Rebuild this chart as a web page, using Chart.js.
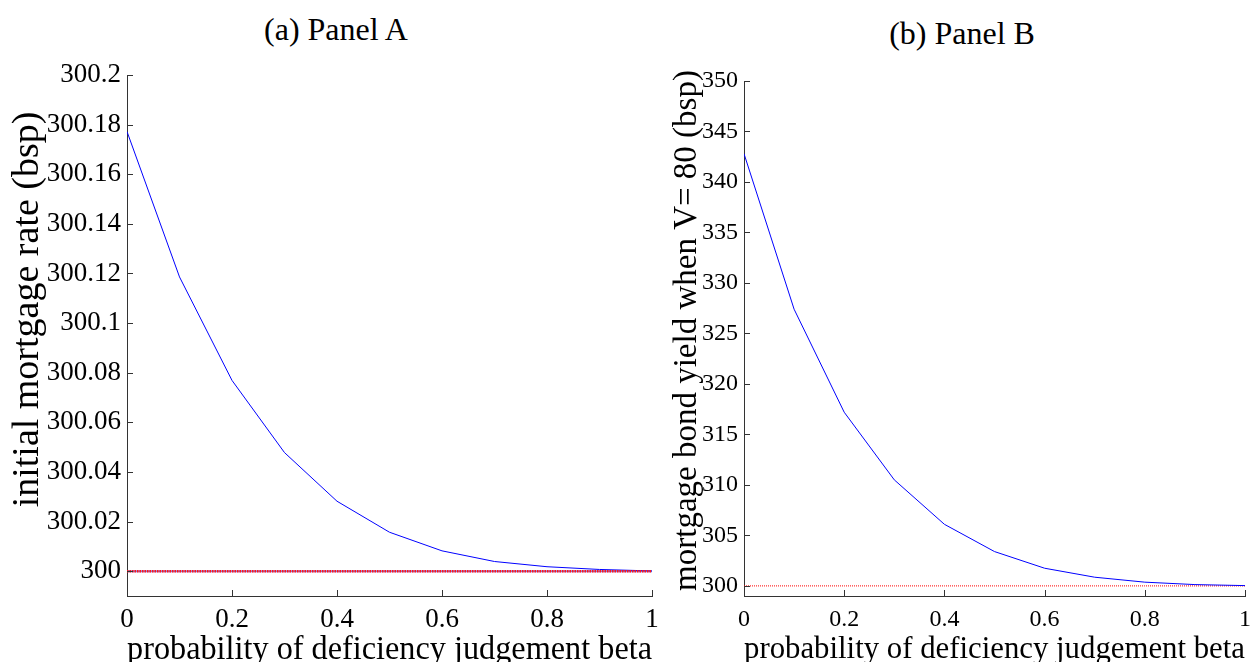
<!DOCTYPE html>
<html>
<head>
<meta charset="utf-8">
<title>Panels A and B</title>
<script src="https://cdn.jsdelivr.net/npm/chart.js@4.4.1/dist/chart.umd.min.js"></script>
<style>
  html, body { margin: 0; padding: 0; background: #fff; }
  body { width: 1260px; height: 662px; overflow: hidden; position: relative; font-family: 'Liberation Serif', 'Times New Roman', serif; }
  .panel-title { position: absolute; font-size: 32px; line-height: 1; white-space: nowrap; transform: translate(-50%, -50%); color: #000; }
  #titleA { left: 336px; top: 29px; }
  #titleB { left: 962px; top: 33px; }
  #boxA { position: absolute; left: 0; top: 0; }
  #boxB { position: absolute; left: 640px; top: 0; }
</style>
</head>
<body>
<div class="panel-title" id="titleA">(a) Panel A</div>
<div class="panel-title" id="titleB">(b) Panel B</div>
<div id="boxA"><canvas id="chartA" width="672" height="670"></canvas></div>
<div id="boxB"><canvas id="chartB" width="620" height="670"></canvas></div>
<script>
// x values (beta) shared by both panels
var betaValues = [0, 0.1, 0.2, 0.3, 0.4, 0.5, 0.6, 0.7, 0.8, 0.9, 1];

// panel A: initial mortgage rate
var mortgageRate = [300.1772, 300.1186, 300.0769, 300.0478, 300.0282, 300.0157, 300.0082, 300.0039, 300.0018, 300.0007, 300.0001];
var baselineA = [300, 300, 300, 300, 300, 300, 300, 300, 300, 300, 300];

// panel B: mortgage bond yield when V = 80
var bondYield = [342.8, 327.4, 317.2, 310.5, 306.1, 303.4, 301.75, 300.86, 300.37, 300.13, 300.03];
var baselineB = [300, 300, 300, 300, 300, 300, 300, 300, 300, 300, 300];

var xTickValues = [0, 0.2, 0.4, 0.6, 0.8, 1];
var xTickLabels = ['0', '0.2', '0.4', '0.6', '0.8', '1'];
var yTickValuesA = [300, 300.02, 300.04, 300.06, 300.08, 300.1, 300.12, 300.14, 300.16, 300.18, 300.2];
var yTickLabelsA = ['300', '300.02', '300.04', '300.06', '300.08', '300.1', '300.12', '300.14', '300.16', '300.18', '300.2'];
var yTickValuesB = [300, 305, 310, 315, 320, 325, 330, 335, 340, 345, 350];
var yTickLabelsB = ['300', '305', '310', '315', '320', '325', '330', '335', '340', '345', '350'];

var serif = "'Liberation Serif', 'Times New Roman', serif";
Chart.defaults.font.family = serif;
Chart.defaults.color = '#000';

function toPoints(ys) {
  return betaValues.map(function(b, i) { return { x: b, y: ys[i] }; });
}

// MATLAB style ticks pointing into the plot, plus the y label placed like the original
var axisExtras = {
  id: 'axisExtras',
  afterDatasetsDraw: function(chart, args, opts) {
    var ctx = chart.ctx;
    var area = chart.chartArea;
    var xs = chart.scales.x, ys = chart.scales.y;
    ctx.save();
    ctx.strokeStyle = '#333';
    ctx.lineWidth = 1;
    ctx.beginPath();
    xs.ticks.forEach(function(t) {
      var px = Math.round(xs.getPixelForValue(t.value)) + 0.5;
      ctx.moveTo(px, area.bottom);
      ctx.lineTo(px, area.bottom - 6);
    });
    ys.ticks.forEach(function(t) {
      var py = Math.round(ys.getPixelForValue(t.value)) + 0.5;
      ctx.moveTo(area.left, py);
      ctx.lineTo(area.left + 6, py);
    });
    ctx.stroke();

    // y axis label, rotated
    ctx.translate(opts.x, (area.top + area.bottom) / 2 + opts.shift);
    ctx.rotate(-Math.PI / 2);
    ctx.font = opts.size + 'px ' + serif;
    ctx.fillStyle = '#000';
    ctx.textAlign = 'center';
    ctx.textBaseline = 'alphabetic';
    ctx.fillText(opts.text, 0, 0);
    ctx.restore();
  }
};

function makeChart(id, datasets, p) {
  return new Chart(document.getElementById(id), {
    type: 'line',
    data: { datasets: datasets },
    options: {
      responsive: false,
      animation: false,
      devicePixelRatio: 1,
      layout: { padding: p.padding },
      plugins: {
        legend: { display: false },
        tooltip: { enabled: false },
        axisExtras: { text: p.yTitle, size: p.yTitleSize, x: p.yTitleX, shift: p.yTitleShift }
      },
      elements: { point: { radius: 0 }, line: { tension: 0 } },
      scales: {
        x: {
          type: 'linear', min: 0, max: 1,
          afterBuildTicks: function(s) { s.ticks = xTickValues.map(function(v) { return { value: v }; }); },
          afterFit: function(s) { s.height = 74; },
          grid: { display: false, drawTicks: false },
          border: { display: true, color: '#333', width: 1 },
          ticks: {
            autoSkip: false, maxRotation: 0, padding: p.xTickPad, color: '#000', font: { size: p.tickSize },
            callback: function(v, i) { return xTickLabels[i]; }
          },
          title: { display: true, text: 'probability of deficiency judgement beta', color: '#000', font: { size: p.xTitleSize }, padding: { top: 0, bottom: p.xTitlePad } }
        },
        y: {
          type: 'linear', min: p.yMin, max: p.yMax,
          afterBuildTicks: function(s) { s.ticks = p.yTicks.map(function(v) { return { value: v }; }); },
          afterFit: function(s) { s.width = p.yWidth; },
          grid: { display: false, drawTicks: false },
          border: { display: true, color: '#333', width: 1 },
          ticks: {
            autoSkip: false, padding: 6, color: '#000', font: { size: p.tickSize },
            callback: function(v, i) { return p.yLabels[i]; }
          },
          title: { display: false }
        }
      }
    },
    plugins: [axisExtras]
  });
}

document.addEventListener('DOMContentLoaded', function() {
  makeChart('chartA', [
    { data: toPoints(mortgageRate), borderColor: '#0000ff', borderWidth: 1, order: 3 },
    { data: toPoints(baselineA), borderColor: 'rgba(70, 40, 200, 0.65)', borderWidth: 2, order: 2 },
    { data: toPoints(baselineA), borderColor: '#ff1a1a', borderWidth: 2.5, borderDash: [1.5, 1], order: 1 }
  ], {
    padding: { top: 75, right: 20, bottom: 0, left: 0 },
    yMin: 299.99, yMax: 300.2, yTicks: yTickValuesA, yLabels: yTickLabelsA,
    tickSize: 27, xTickPad: 8, xTitleSize: 33.5, xTitlePad: 0,
    yWidth: 127, yTitle: 'initial mortgage rate (bsp)', yTitleSize: 38, yTitleX: 38, yTitleShift: -26
  });

  makeChart('chartB', [
    { data: toPoints(bondYield), borderColor: '#0000ff', borderWidth: 1 },
    { data: toPoints(baselineB), borderColor: '#ff0000', borderWidth: 1, borderDash: [1, 1] }
  ], {
    padding: { top: 81, right: 7, bottom: 0, left: 0 },
    yMin: 299, yMax: 350, yTicks: yTickValuesB, yLabels: yTickLabelsB,
    tickSize: 24, xTickPad: 9, xTitleSize: 31.5, xTitlePad: 1,
    yWidth: 104, yTitle: 'mortgage bond yield when V= 80 (bsp)', yTitleSize: 33, yTitleX: 56, yTitleShift: -8
  });
});
</script>
</body>
</html>
